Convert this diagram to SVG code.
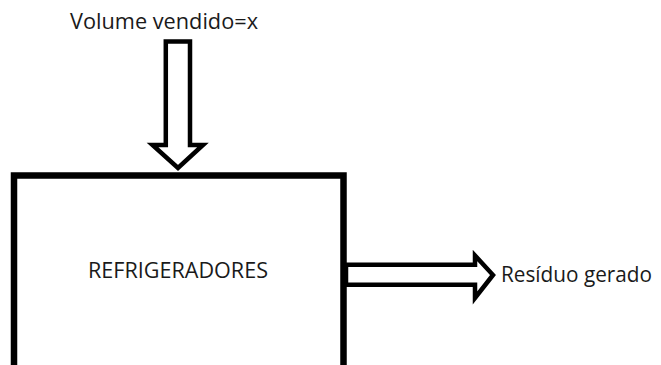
<svg xmlns="http://www.w3.org/2000/svg" width="661" height="365" viewBox="0 0 661 365">
  <style>
    .lbl { font-family: "Open Sans", "Liberation Sans", sans-serif; font-size: 21px; fill: #1a1a1a; }
    .arrow { fill: #ffffff; stroke: #000000; stroke-width: 4.5; stroke-linejoin: miter; }
    .box { fill: #ffffff; stroke: #000000; stroke-width: 6.5; }
  </style>
  <rect width="661" height="365" fill="#ffffff"/>
  <g id="input-label">
    <text class="lbl" x="70" y="29" textLength="188" lengthAdjust="spacingAndGlyphs">Volume vendido=x</text>
  </g>
  <g id="connectors">
    <!-- block arrow: sales volume into the process -->
    <path class="arrow" d="M165.8,41.5 H190 V145 H203 L178,168 L152.5,145 H165.8 Z"/>
    <!-- block arrow: waste out of the process -->
    <path class="arrow" d="M346,264.7 H475 V255.5 L493,275 L475,298 V284.8 H346 Z"/>
  </g>
  <g id="refrigeradores">
    <rect class="box" x="14" y="175.5" width="329.5" height="200"/>
    <text class="lbl" x="88" y="278" textLength="180" lengthAdjust="spacingAndGlyphs">REFRIGERADORES</text>
  </g>
  <g id="output-label">
    <text class="lbl" x="501" y="282" textLength="151" lengthAdjust="spacingAndGlyphs">Resíduo gerado</text>
  </g>
</svg>
